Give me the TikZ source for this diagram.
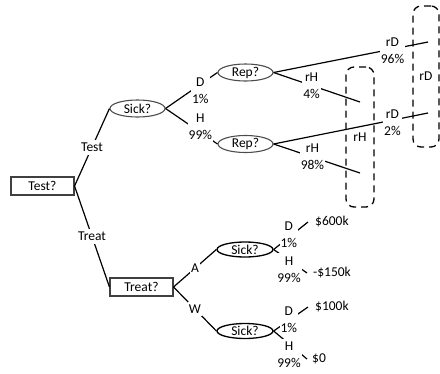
\documentclass[tikz,border=0pt]{standalone}
\usepackage{fontspec}
\setmainfont{Carlito}
\usetikzlibrary{shapes.geometric}

\begin{document}
\begin{tikzpicture}[x=1pt, y=-1pt, font=\fontsize{13.5}{17}\selectfont]
  % Definir estilos
  \tikzset{
    decision/.style={draw=black!75, line width=1.1pt, minimum width=63pt, minimum height=18pt, inner sep=0pt},
    azar/.style={ellipse, draw=black!70, line width=1.1pt, minimum width=55pt, minimum height=17pt, inner sep=0pt},
    azar_fuerte/.style={azar, draw=black, line width=1.3pt, minimum width=56pt, minimum height=15pt},
    rama/.style={line width=1.2pt},
    etiqueta/.style={fill=white, inner xsep=1pt, inner ysep=3pt, align=center},
    valor/.style={anchor=west, inner xsep=7pt, inner ysep=0pt},
    grupo/.style={draw, line width=1.3pt, rounded corners=8pt, dash pattern=on 7pt off 5pt, inner sep=0pt}
  }
  \useasboundingbox (0,0) rectangle (440,373);

  % Grupos punteados
  \node[grupo, minimum width=26pt, minimum height=141pt] (grupoD) at (426,76.5) {rD};
  \node[grupo, minimum width=28pt, minimum height=140pt] (grupoH) at (360,137) {rH};

  % Nodos de decision y de azar
  \node[decision] (test) at (42.5,186) {Test?};
  \node[decision] (treat) at (141.5,287) {Treat?};
  \node[azar] (sick1) at (137.5,108.5) {Sick?};
  \node[azar] (rep1) at (245.5,72.5) {Rep?};
  \node[azar] (rep2) at (245.5,144) {Rep?};
  \node[azar_fuerte] (sick2) at (245,249.5) {Sick?};
  \node[azar_fuerte] (sick3) at (245,331) {Sick?};

  % Resultados
  \node[valor] (v600) at (308,222) {\$600k};
  \node[valor, inner xsep=6pt] (v150) at (307,273) {-\$150k};
  \node[valor] (v100) at (308,307) {\$100k};
  \node[valor, inner xsep=5pt] (v0) at (307,359) {\$0};

  % Extremos libres
  \coordinate (finD1) at (428,42);
  \coordinate (finH1) at (360,102);
  \coordinate (finD2) at (428,113);
  \coordinate (finH2) at (360,173);

  % Ramas superiores
  \draw[rama] (test.east) -- (sick1.west) node[etiqueta, midway] {Test};
  \draw[rama] (sick1.east) -- (rep1.west) node[etiqueta, pos=0.67, yshift=-6pt] {D\\1\%};
  \draw[rama] (sick1.east) -- (rep2.west) node[etiqueta, pos=0.67, yshift=6pt] {H\\99\%};
  \draw[rama] (rep1.east) -- (finD1) node[etiqueta, pos=0.77, yshift=-2pt] {rD\\96\%};
  \draw[rama] (rep1.east) -- (finH1) node[etiqueta, pos=0.44] {rH\\4\%};
  \draw[rama] (rep2.east) -- (finD2) node[etiqueta, pos=0.77, yshift=-3pt] {rD\\2\%};
  \draw[rama] (rep2.east) -- (finH2) node[etiqueta, pos=0.45] {rH\\98\%};

  % Ramas inferiores
  \draw[rama] (test.east) -- (treat.west) node[etiqueta, midway] {Treat};
  \draw[rama] (treat.east) -- (sick2.west) node[etiqueta, midway] {A};
  \draw[rama] (treat.east) -- (sick3.west) node[etiqueta, midway] {W};
  \draw[rama] (sick2.east) -- (v600.west) node[etiqueta, pos=0.44, yshift=3pt] {D\\1\%};
  \draw[rama] (sick2.east) -- (v150.west) node[etiqueta, pos=0.46, yshift=-9pt] {H\\99\%};
  \draw[rama] (sick3.east) -- (v100.west) node[etiqueta, pos=0.44, yshift=1pt] {D\\1\%};
  \draw[rama] (sick3.east) -- (v0.west) node[etiqueta, pos=0.46, yshift=-11pt] {H\\99\%};
\end{tikzpicture}
\end{document}
